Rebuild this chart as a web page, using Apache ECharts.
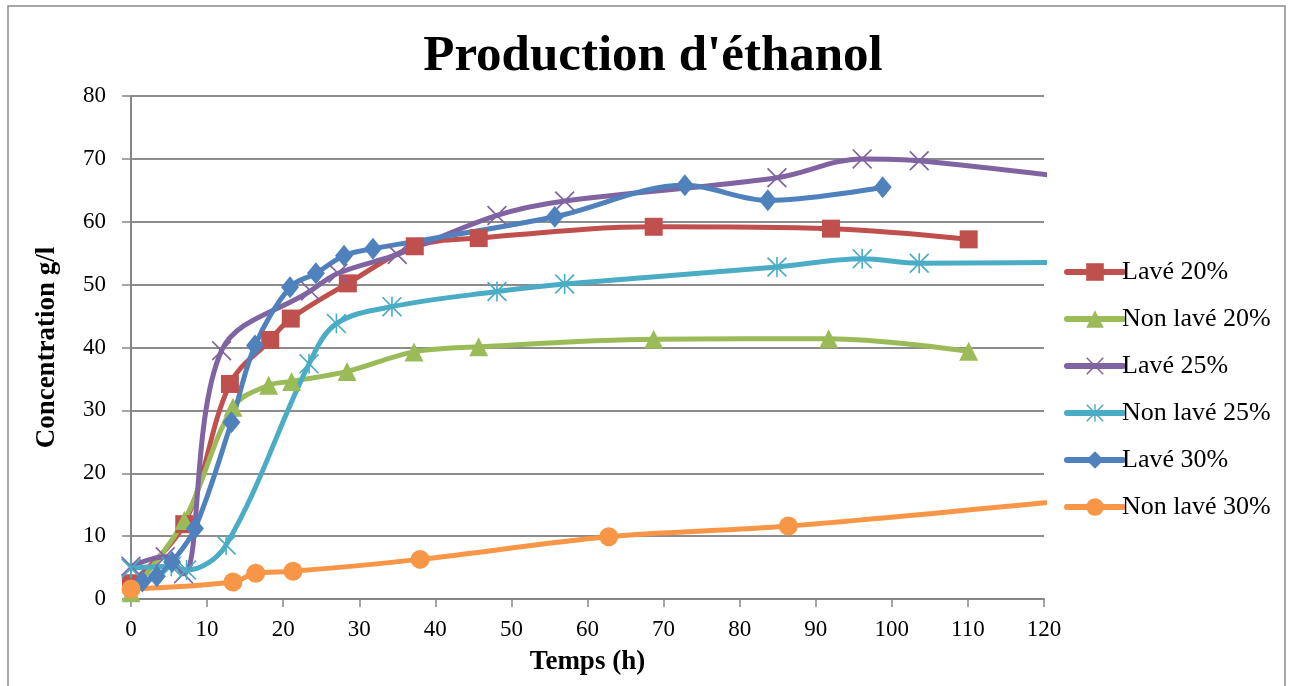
<!DOCTYPE html>
<html>
<head>
<meta charset="utf-8">
<script src="https://cdn.jsdelivr.net/npm/echarts@6/dist/echarts.min.js"></script>
<style>
html,body{margin:0;padding:0;background:#fff;}
#c{width:1290px;height:686px;}
</style>
</head>
<body>
<div id="c"></div>
<script>
const seriesNames = ['Lavé 20%', 'Non lavé 20%', 'Lavé 25%', 'Non lavé 25%', 'Lavé 30%', 'Non lavé 30%'];
const xTicks = [0, 10, 20, 30, 40, 50, 60, 70, 80, 90, 100, 110, 120];
const yTicks = [0, 10, 20, 30, 40, 50, 60, 70, 80];

const lave20_t = [0, 7, 13, 18.3, 21, 28.5, 37.3, 45.7, 68.7, 92, 110.1];
const lave20_c = [2.5, 11.9, 34.2, 41.2, 44.6, 50.2, 56.1, 57.4, 59.2, 58.9, 57.2];

const nonlave20_t = [0, 7, 13.4, 18.1, 21.1, 28.4, 37.2, 45.7, 68.7, 91.7, 110.1];
const nonlave20_c = [1.0, 12.5, 30.5, 34.0, 34.6, 36.2, 39.3, 40.1, 41.3, 41.4, 39.4];

const lave25_t = [0, 4.5, 6.9, 11.9, 23.6, 27.2, 35, 48.1, 57, 84.9, 96.1, 103.6, 135];
const lave25_c = [5.2, 6.7, 4.0, 39.5, 49.0, 51.8, 54.8, 61.0, 63.3, 67.0, 70.0, 69.7, 65.3];

const nonlave25_t = [0, 5.3, 7.3, 12.5, 23.4, 27, 34.3, 48.1, 57, 84.9, 96.1, 103.6, 135];
const nonlave25_c = [4.9, 5.2, 4.6, 8.6, 37.4, 43.8, 46.5, 48.9, 50.1, 52.8, 54.1, 53.4, 53.7];

const lave30_t = [1.5, 3.4, 5.4, 8.4, 13.2, 16.3, 20.9, 24.3, 28, 31.8, 55.7, 72.8, 83.7, 98.8];
const lave30_c = [2.8, 3.6, 5.9, 11.2, 28.1, 40.3, 49.6, 51.8, 54.6, 55.7, 60.8, 65.8, 63.4, 65.5];

const nonlave30_t = [0, 13.4, 16.4, 21.3, 38, 62.8, 86.4, 135];
const nonlave30_c = [1.6, 2.7, 4.1, 4.4, 6.3, 9.9, 11.6, 17.1];

const zip = (t, c) => t.map((x, i) => [x, c[i]]);

const colors = ['#C0504D', '#9BBB59', '#8064A2', '#4BACC6', '#4F81BD', '#F79646'];
const xPath = 'path://M0,1.2 L1.2,0 L10,8.8 L18.8,0 L20,1.2 L11.2,10 L20,18.8 L18.8,20 L10,11.2 L1.2,20 L0,18.8 L8.8,10 Z';
const starPath = 'path://M0,1.2 L1.2,0 L10,8.8 L18.8,0 L20,1.2 L11.2,10 L20,18.8 L18.8,20 L10,11.2 L1.2,20 L0,18.8 L8.8,10 Z M9.2,0 L10.8,0 L10.8,20 L9.2,20 Z';
const symbols = ['rect', 'triangle', xPath, starPath, 'diamond', 'circle'];
const sizes = [18, 19, 20, 20, [18, 22], 19];
const datasets = [
  zip(lave20_t, lave20_c),
  zip(nonlave20_t, nonlave20_c),
  zip(lave25_t, lave25_c),
  zip(nonlave25_t, nonlave25_c),
  zip(lave30_t, lave30_c),
  zip(nonlave30_t, nonlave30_c)
];

const serif = '"Liberation Serif", "DejaVu Serif", serif';

const chart = echarts.init(document.getElementById('c'), null, {renderer: 'canvas'});
chart.setOption({
  animation: false,
  backgroundColor: '#fff',
  color: colors,
  graphic: [{
    type: 'rect',
    shape: {x: 8, y: 6, width: 1277, height: 690},
    style: {fill: 'none', stroke: '#8a8a8a', lineWidth: 1.5},
    silent: true
  }],
  title: {
    text: "Production d'éthanol",
    left: 648, top: 26, textAlign: 'center',
    textStyle: {fontFamily: serif, fontWeight: 'bold', fontSize: 51, color: '#000'}
  },
  legend: {
    orient: 'vertical',
    left: 1059, top: 254,
    itemWidth: 56, itemHeight: 22, itemGap: 21,
    lineStyle: {width: 6, cap: 'round'},
    textStyle: {fontFamily: serif, fontSize: 26, color: '#000', lineHeight: 22, padding: [0, 0, 0, -6]},
    data: seriesNames.map((n, i) => ({name: n, itemStyle: {color: colors[i]}}))
  },
  grid: {left: 131, right: 246, top: 96, bottom: 87, containLabel: false},
  xAxis: {
    type: 'value', min: 0, max: 120, interval: 10,
    name: 'Temps (h)', nameLocation: 'middle', nameGap: 50,
    nameTextStyle: {fontFamily: serif, fontWeight: 'bold', fontSize: 27, color: '#000'},
    axisLine: {show: true, lineStyle: {color: '#868686', width: 2}},
    axisTick: {show: true, inside: false, length: 8, lineStyle: {color: '#868686', width: 1.5}},
    axisLabel: {fontFamily: serif, fontSize: 23, color: '#000', margin: 19},
    splitLine: {show: false}
  },
  yAxis: {
    type: 'value', min: 0, max: 80, interval: 10,
    name: 'Concentration g/l', nameLocation: 'middle', nameGap: 70, nameRotate: 90,
    nameTextStyle: {fontFamily: serif, fontWeight: 'bold', fontSize: 27, color: '#000'},
    axisLine: {show: true, lineStyle: {color: '#868686', width: 2}},
    axisTick: {show: true, inside: false, length: 9, lineStyle: {color: '#868686', width: 1.5}},
    axisLabel: {fontFamily: serif, fontSize: 23, color: '#000', margin: 25},
    splitLine: {show: true, lineStyle: {color: '#8c8c8c', width: 2}}
  },
  series: datasets.map((d, i) => ({
    name: seriesNames[i],
    type: 'line',
    data: d,
    smooth: 0.35,
    clip: true,
    symbol: symbols[i],
    symbolSize: sizes[i],
    showAllSymbol: true,
    lineStyle: {width: 5, color: colors[i]},
    itemStyle: {color: colors[i]},
    emphasis: {disabled: true}
  }))
});
</script>
</body>
</html>
